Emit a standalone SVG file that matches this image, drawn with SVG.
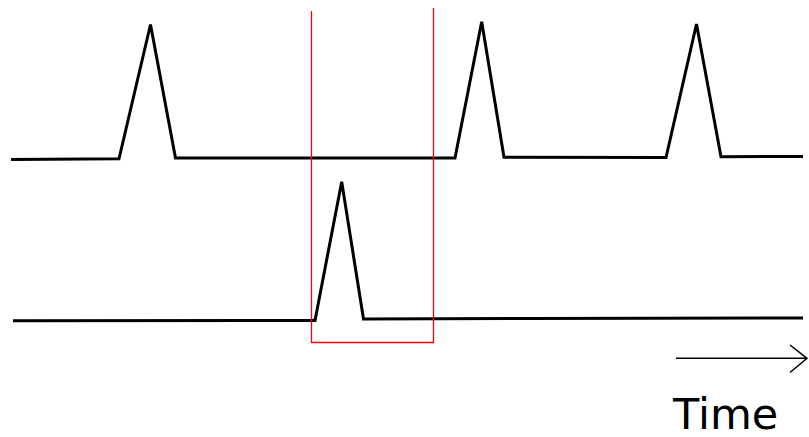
<svg xmlns="http://www.w3.org/2000/svg" width="809" height="437" viewBox="0 0 809 437">
<style>
.sig{fill:none;stroke:#000;stroke-width:3;stroke-linejoin:miter}
.win{fill:none;stroke:#ff0000;stroke-width:1.3}
.ax{fill:none;stroke:#000;stroke-width:1.5}
.lbl{font-family:"DejaVu Sans",sans-serif;font-size:43px;fill:#000}
</style>
<rect width="809" height="437" fill="#fff"/>
<g id="connectors">
<path id="signal-top" class="sig" d="M11,159.5 L119,158.8 L150.5,24.5 L175.5,158 L455,158 L481.7,21.7 L504,157.2 L666,157.5 L696.5,24 L721,156.7 L803,156.5"/>
<path id="signal-bottom" class="sig" d="M13,320.7 L315,320.5 L341.7,181.7 L363.5,319 L530,318.5 L803,318"/>
<path id="time-arrow" class="ax" d="M676,358.3 H807 M790,345 L807,358.3 L790,372.5"/>
</g>
<g id="window">
<path class="win" d="M311.5,11 V342.5 H433.5 V8"/>
</g>
<g id="label-time">
<text class="lbl" x="673" y="429">Time</text>
</g>
</svg>
